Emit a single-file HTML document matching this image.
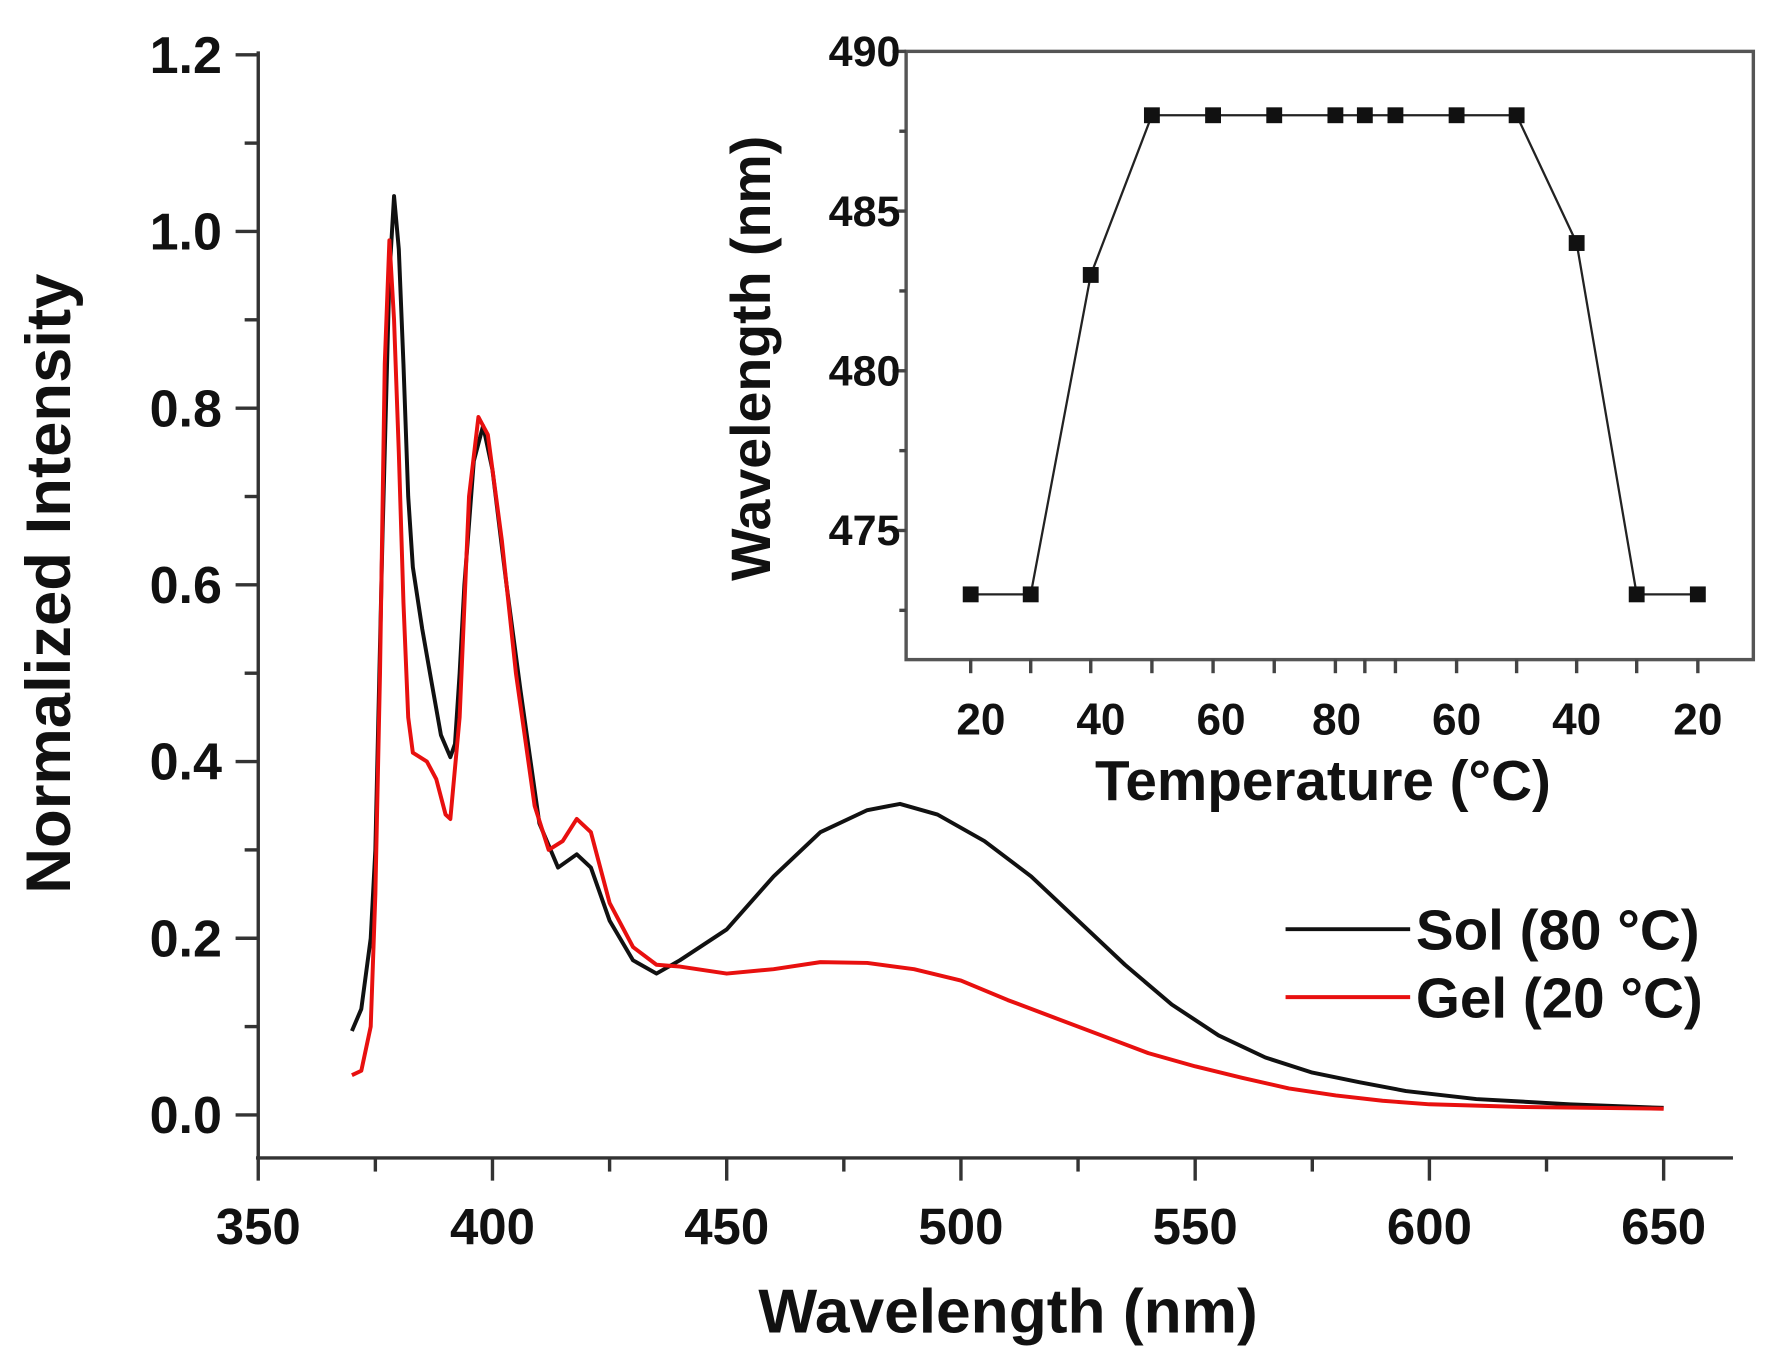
<!DOCTYPE html>
<html><head><meta charset="utf-8"><style>
html,body{margin:0;padding:0;background:#fff;}
svg{display:block;}
text{font-family:"Liberation Sans",Arial,sans-serif;font-weight:bold;fill:#111;}
</style></head><body>
<svg id="s" width="1776" height="1360" viewBox="0 0 1568 1200" xmlns="http://www.w3.org/2000/svg">
<g stroke="#333" stroke-width="3" fill="none">
<line x1="228" y1="45" x2="228" y2="1022"/>
<line x1="226" y1="1022" x2="1530" y2="1022"/>
</g>
<g id="ticks" stroke="#333" stroke-width="3"></g>
<g font-size="46" text-anchor="end" id="ylab"></g>
<g font-size="45" text-anchor="middle" id="xlab"></g>
<text x="890" y="1176" font-size="55" text-anchor="middle">Wavelength (nm)</text>
<text transform="translate(62,515) rotate(-90)" font-size="56" text-anchor="middle">Normalized Intensity</text>
<path id="black" fill="none" stroke="#111" stroke-width="3.5" stroke-linejoin="round"/>
<path id="red" fill="none" stroke="#e8100f" stroke-width="3.5" stroke-linejoin="round"/>
<line x1="1135" y1="820" x2="1245" y2="820" stroke="#111" stroke-width="3.5"/>
<line x1="1135" y1="880" x2="1245" y2="880" stroke="#e8100f" stroke-width="3.5"/>
<text x="1250" y="838" font-size="50">Sol (80 °C)</text>
<text x="1250" y="898" font-size="50">Gel (20 °C)</text>
<rect x="800" y="45" width="748" height="537" fill="#fff" stroke="#555" stroke-width="3"/>
<g id="iticks" stroke="#444" stroke-width="3"></g>
<g font-size="38" text-anchor="end">
<text x="795" y="58">490</text><text x="795" y="199">485</text><text x="795" y="340">480</text><text x="795" y="481">475</text>
</g>
<g font-size="39" text-anchor="middle">
<text x="866" y="648">20</text><text x="972" y="648">40</text><text x="1078" y="648">60</text><text x="1180" y="648">80</text><text x="1286" y="648">60</text><text x="1392" y="648">40</text><text x="1499" y="648">20</text>
</g>
<text x="1168" y="706" font-size="50" text-anchor="middle">Temperature (°C)</text>
<text transform="translate(680,316) rotate(-90)" font-size="49" text-anchor="middle">Wavelength (nm)</text>
<polyline id="ipl" fill="none" stroke="#222" stroke-width="2"/>
<g id="imk" fill="#111"></g>
</svg>
<script>
var NS="http://www.w3.org/2000/svg";
function el(p,t,a,txt){var e=document.createElementNS(NS,t);for(var k in a)e.setAttribute(k,a[k]);if(txt)e.textContent=txt;document.getElementById(p).appendChild(e);}
function X(w){return 228+(w-350)*206.8/50;}
function Y(v){return 984-v*780;}
for(var w=350;w<=675;w+=25){var x=X(w);el("ticks","line",{x1:x,y1:1022,x2:x,y2:(w%50==0)?1042:1034});if(w%50==0&&w<=650)el("xlab","text",{x:x,y:1098},""+w);}
for(var i=0;i<=12;i++){var y=Y(i/10);el("ticks","line",{x1:228,y1:y,x2:(i%2==0)?208:216,y2:y});if(i%2==0)el("ylab","text",{x:196,y:y+16},(i/10).toFixed(1));}
var B=[[370,.095],[372,.12],[374,.2],[375,.3],[376.5,.65],[378,.95],[379,1.04],[380,.98],[381,.85],[382,.7],[383,.62],[385,.55],[387,.49],[389,.43],[391,.405],[392,.42],[393,.5],[394,.6],[396,.74],[398,.78],[400,.73],[403,.6],[406,.48],[410,.33],[414,.28],[418,.295],[421,.28],[425,.22],[430,.175],[435,.16],[440,.175],[450,.21],[460,.27],[470,.32],[480,.345],[487,.352],[495,.34],[505,.31],[515,.27],[525,.22],[535,.17],[545,.125],[555,.09],[565,.065],[575,.048],[585,.037],[595,.027],[610,.018],[630,.012],[650,.008]];
var R=[[370,.045],[372,.05],[374,.1],[375,.25],[376,.5],[377,.85],[378,.99],[379,.9],[380,.75],[381,.58],[382,.45],[383,.41],[386,.4],[388,.38],[390,.34],[391,.335],[393,.45],[395,.7],[397,.79],[399,.77],[402,.65],[405,.5],[409,.35],[412,.3],[415,.31],[418,.335],[421,.32],[425,.24],[430,.19],[435,.17],[440,.168],[450,.16],[460,.165],[470,.173],[480,.172],[490,.165],[500,.152],[510,.13],[520,.11],[530,.09],[540,.07],[550,.055],[560,.042],[570,.03],[580,.022],[590,.016],[600,.012],[620,.009],[650,.007]];
function P(a){return a.map(function(p,i){return (i?"L":"M")+X(p[0]).toFixed(1)+","+Y(p[1]).toFixed(1);}).join("");}
document.getElementById("black").setAttribute("d",P(B));
document.getElementById("red").setAttribute("d",P(R));
var ix=[857,910,963,1017,1071,1125,1179,1205,1232,1286,1339,1392,1445,1499];
var iv=[473,473,483,488,488,488,488,488,488,488,488,484,473,473];
function IY(v){return 45+(490-v)*28.2;}
var pts=[];
for(var i=0;i<ix.length;i++){var y=IY(iv[i]);pts.push(ix[i]+","+y);el("imk","rect",{x:ix[i]-7,y:y-7,width:14,height:14});el("iticks","line",{x1:ix[i],y1:582,x2:ix[i],y2:594});}
document.getElementById("ipl").setAttribute("points",pts.join(" "));
for(var v=490;v>=470;v-=2.5){var y=IY(v);if(y>582)continue;el("iticks","line",{x1:800,y1:y,x2:(v%5==0)?788:794,y2:y});}
</script>
</body></html>
